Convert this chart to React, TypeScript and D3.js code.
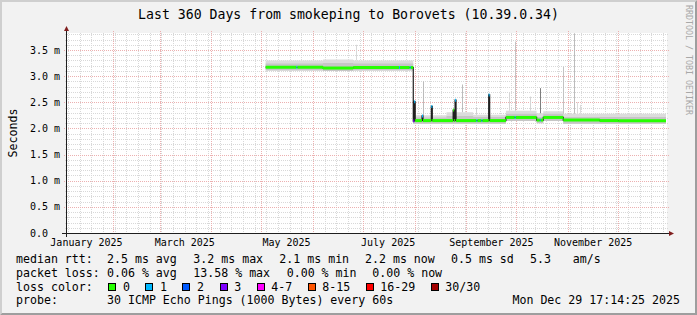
import React from "react";
import * as d3 from "d3";

const WIDTH = 697;
const HEIGHT = 315;

const TITLE = "Last 360 Days from smokeping to Borovets (10.39.0.34)";
const Y_AXIS_LABEL = "Seconds";
const WATERMARK = "RRDTOOL / TOBI OETIKER";

const rangeStart = "2025-01-03T17:14:25";
const rangeEnd = "2025-12-29T17:14:25";
const yMax = 3.825; // ms

const yTickValues = [0, 0.5, 1, 1.5, 2, 2.5, 3, 3.5];
const yTickLabels = ["0.0", "0.5 m", "1.0 m", "1.5 m", "2.0 m", "2.5 m", "3.0 m", "3.5 m"];
const xLabelMonths = ["2025-01-01T00:00", "2025-03-01T00:00", "2025-05-01T00:00", "2025-07-01T00:00", "2025-09-01T00:00", "2025-11-01T00:00"];
const xLabelTexts = ["January 2025", "March 2025", "May 2025", "July 2025", "September 2025", "November 2025"];

// median rtt (ms), step values starting at each time, with loss bucket index
const medianTimes = [
  "2025-05-03T12:00", "2025-05-22T00:00", "2025-05-22T14:00", "2025-06-06T22:00", "2025-06-25T00:00",
  "2025-07-22T12:00", "2025-07-23T02:00", "2025-07-29T00:00", "2025-07-29T14:00",
  "2025-07-31T02:00", "2025-07-31T16:00", "2025-08-01T06:00",
  "2025-08-05T08:00", "2025-08-05T22:00",
  "2025-08-10T22:00", "2025-08-11T12:00",
  "2025-08-24T00:00", "2025-08-24T14:00",
  "2025-08-25T04:00", "2025-08-25T18:00",
  "2025-09-07T00:00", "2025-09-07T14:00",
  "2025-09-10T00:00", "2025-09-10T14:00",
  "2025-09-14T08:00", "2025-09-14T22:00",
  "2025-09-24T16:00",
  "2025-09-30T00:00", "2025-09-30T14:00",
  "2025-10-13T02:00",
  "2025-10-15T00:00", "2025-10-15T14:00",
  "2025-10-17T02:00",
  "2025-10-29T02:00",
  "2025-11-20T00:00",
  "2025-12-01T02:00",
];
const medianValues = [
  3.17, 3.17, 3.17, 3.155, 3.165,
  3.165, 3.165, 3.165, 3.165,
  2.14, 2.51, 2.15,
  2.24, 2.15,
  2.42, 2.15,
  2.35, 2.15,
  2.54, 2.15,
  2.15, 2.15,
  2.15, 2.15,
  2.64, 2.15,
  2.21,
  2.21, 2.21,
  2.16,
  2.16, 2.16,
  2.21,
  2.16,
  2.15,
  2.145,
];
const medianLoss = [
  0, 1, 0, 0, 0,
  1, 0, 1, 0,
  3, 1, 0,
  1, 0,
  1, 0,
  0, 0,
  1, 0,
  1, 0,
  1, 0,
  1, 0,
  0,
  1, 0,
  0,
  1, 0,
  0,
  0,
  0,
  0,
];

// smoke (spread of the pings), ms
const smokeTimes = [
  "2025-05-03T12:00", "2025-06-06T22:00", "2025-06-25T00:00", "2025-07-31T02:00", "2025-08-20T00:00",
  "2025-09-05T00:00", "2025-09-24T16:00", "2025-10-13T02:00", "2025-10-17T02:00", "2025-10-29T02:00",
];
const smokeLow = [3.11, 3.1, 3.11, 2.09, 2.09, 2.09, 2.14, 2.1, 2.14, 2.09];
const smokeCore = [3.24, 3.25, 3.24, 2.21, 2.24, 2.22, 2.28, 2.22, 2.28, 2.22];
const smokeHigh = [3.3, 3.32, 3.3, 2.25, 2.31, 2.26, 2.34, 2.29, 2.33, 2.28];

// isolated max-rtt spikes
const spikeTimes = [
  "2025-06-27T00:00", "2025-08-05T22:00", "2025-08-29T12:00", "2025-09-06T17:00", "2025-09-26T12:00",
  "2025-09-30T02:00", "2025-10-09T02:00", "2025-10-15T07:00", "2025-10-29T02:00", "2025-11-04T17:00",
  "2025-11-06T12:00", "2025-11-08T00:00",
];
const spikeTops = [3.6, 2.9, 2.84, 2.39, 2.68, 3.66, 2.61, 2.77, 3.18, 3.82, 2.5, 2.45];
const spikeDensity = [0.1, 0.3, 0.3, 0.15, 0.12, 0.25, 0.12, 0.75, 0.25, 0.3, 0.08, 0.08];

const lossLabels = ["0", "1", "2", "3", "4-7", "8-15", "16-29", "30/30"];
const lossColors = ["#26ff00", "#00b8ff", "#0059ff", "#7e00ff", "#ff00ff", "#ff5500", "#ff0000", "#a10000"];

const rttStats = ["2.5 ms avg", "3.2 ms max", "2.1 ms min", "2.2 ms now", "0.5 ms sd", "5.3", "am/s"];
const lossStats = ["0.06 % avg", "13.58 % max", "0.00 % min", "0.00 % now"];
const probeText = "30 ICMP Echo Pings (1000 Bytes) every 60s";
const stampText = "Mon Dec 29 17:14:25 2025";

const FONT = "'DejaVu Sans Mono', monospace";

export default function App() {
  const X0 = 66, X1 = 666, Y0 = 233, Y1 = 33;
  const start = new Date(rangeStart);
  const end = new Date(rangeEnd);
  const x = d3.scaleTime().domain([start, end]).range([X0, X1]);
  const y = d3.scaleLinear().domain([0, yMax]).range([Y0, Y1]);

  const mT = medianTimes.map((s) => new Date(s));
  const sT = smokeTimes.map((s) => new Date(s));

  // minor/major grids
  const weekLines = d3.timeSunday.range(start, end).map((d) => Math.round(x(d)) + 0.5);
  const monthLines = d3.timeMonth.range(start, end).map((d) => Math.round(x(d)) + 0.5);
  const minorY: number[] = [];
  for (let i = 1; i * 0.1 <= yMax; i++) {
    if (i % 5 !== 0) minorY.push(Math.round(y(i * 0.1)) + 0.5);
  }
  const majorY = yTickValues.filter((v) => v > 0).map((v) => Math.round(y(v)) + 0.5);

  // smoke areas
  type SP = { t: Date; lo: number; hi: number; core: number };
  const smokePts: SP[] = sT.map((t, i) => ({ t, lo: smokeLow[i], hi: smokeHigh[i], core: smokeCore[i] }));
  smokePts.push({ t: end, lo: smokeLow[smokeLow.length - 1], hi: smokeHigh[smokeHigh.length - 1], core: smokeCore[smokeCore.length - 1] });
  const outerArea = d3.area<SP>().curve(d3.curveStepAfter).x((d) => x(d.t)).y0((d) => y(d.lo)).y1((d) => y(d.hi));
  const coreArea = d3.area<SP>().curve(d3.curveStepAfter).x((d) => x(d.t)).y0((d) => y(d.lo)).y1((d) => y(d.core));

  // spikes
  const spikeShade = d3.scaleLinear<string>().domain([0, 1]).range(["#e6e6e6", "#5a5a5a"]);
  const spikes = spikeTimes.map((s, i) => {
    const t = new Date(s);
    const k = Math.max(0, d3.bisectRight(sT, t) - 1);
    return { x: Math.round(x(t)) + 0.5, y0: y(smokeHigh[k]), y1: y(spikeTops[i]), c: spikeShade(spikeDensity[i]) };
  });

  // median dark line
  type MP = { t: Date; v: number };
  const medPts: MP[] = mT.map((t, i) => ({ t, v: medianValues[i] }));
  medPts.push({ t: end, v: medianValues[medianValues.length - 1] });
  const medLine = d3.line<MP>().curve(d3.curveStepAfter).x((d) => x(d.t)).y((d) => y(d.v));

  const segs = mT.map((t, i) => ({
    x0: x(t),
    x1: x(i + 1 < mT.length ? mT[i + 1] : end),
    y: y(medianValues[i]),
    c: lossColors[medianLoss[i]],
  }));

  const rttX = [107, 193.3, 279.3, 365, 451, 530, 572.7];
  const lossX = [107, 193.3, 286.7, 372.3];
  const rowY = [262.7, 276.6, 290.5, 304.3];

  // legend boxes layout
  const boxes: { bx: number; tx: number }[] = [];
  let bx = 108.3;
  lossLabels.forEach((lab) => {
    const tx = bx + 14.6;
    boxes.push({ bx, tx });
    bx = tx + lab.length * 6.98 + 15.5;
  });

  return (
    <svg
      width={WIDTH}
      height={HEIGHT}
      viewBox={`0 0 ${WIDTH} ${HEIGHT}`}
      style={{ position: "absolute", left: 0, top: 0, display: "block" }}
      fontFamily={FONT}
    >
      <rect x={0} y={0} width={WIDTH} height={HEIGHT} fill="#f2f2f2" />
      {/* 3d border */}
      <polygon points={`0,${HEIGHT} 2,${HEIGHT - 2} 2,2 ${WIDTH - 2},2 ${WIDTH},0 0,0`} fill="#cfcfcf" />
      <polygon points={`2,${HEIGHT - 2} ${WIDTH - 2},${HEIGHT - 2} ${WIDTH - 2},2 ${WIDTH},0 ${WIDTH},${HEIGHT} 0,${HEIGHT}`} fill="#9e9e9e" />

      {/* canvas */}
      <rect x={X0} y={Y1} width={X1 - X0 + 1} height={Y0 - Y1} fill="#ffffff" />

      {/* grid */}
      <g shapeRendering="crispEdges" strokeDasharray="1,1" strokeWidth={1}>
        {minorY.map((yy, i) => (
          <line key={"my" + i} x1={X0 - 1} x2={X1 + 2} y1={yy} y2={yy} stroke="#d8d8d8" />
        ))}
        {weekLines.map((xx, i) => (
          <line key={"wx" + i} x1={xx} x2={xx} y1={Y1} y2={Y0} stroke="#d8d8d8" />
        ))}
        {majorY.map((yy, i) => (
          <line key={"My" + i} x1={X0 - 2} x2={X1 + 3} y1={yy} y2={yy} stroke="#ecb0b0" />
        ))}
        {monthLines.map((xx, i) => (
          <line key={"Mx" + i} x1={xx} x2={xx} y1={Y1 - 2} y2={Y0 + 2} stroke="#ecb0b0" />
        ))}
      </g>

      {/* smoke */}
      <path d={outerArea(smokePts) || ""} fill="#dcdcdc" />
      <path d={coreArea(smokePts) || ""} fill="#c6c6c6" />
      {spikes.map((s, i) => (
        <line key={"sp" + i} x1={s.x} x2={s.x} y1={s.y0} y2={s.y1} stroke={s.c} strokeWidth={1} />
      ))}

      {/* median */}
      <path d={medLine(medPts) || ""} fill="none" stroke="#202020" strokeWidth={1.2} />
      {segs.map((s, i) => (
        <line key={"seg" + i} x1={s.x0} x2={s.x1} y1={s.y} y2={s.y} stroke={s.c} strokeWidth={3} />
      ))}

      {/* axes */}
      <g shapeRendering="crispEdges">
        <line x1={X0 + 0.5} x2={X0 + 0.5} y1={Y0 + 4} y2={Y1 - 3} stroke="#1f1f1f" />
        <line x1={X0 - 4} x2={X1 + 4} y1={Y0 + 0.5} y2={Y0 + 0.5} stroke="#1f1f1f" />
      </g>
      <polygon points={`${X0 - 2},${Y1 - 2} ${X0 + 3},${Y1 - 2} ${X0 + 0.5},${Y1 - 7}`} fill="#801f1f" />
      <polygon points={`${X1 + 3},${Y0 - 2} ${X1 + 3},${Y0 + 3} ${X1 + 8},${Y0 + 0.5}`} fill="#801f1f" />

      {/* y tick labels */}
      {yTickValues.map((v, i) => (
        <text key={"yt" + i} x={30} y={y(v) + 3.6} fontSize={10} fill="#000" xmlSpace="preserve">
          {yTickLabels[i]}
        </text>
      ))}
      {/* x tick labels */}
      {xLabelMonths.map((m, i) => (
        <text key={"xt" + i} x={x(d3.timeDay.offset(new Date(m), 15))} y={245.5} fontSize={10} textAnchor="middle" fill="#000">
          {xLabelTexts[i]}
        </text>
      ))}

      {/* title */}
      <text x={WIDTH / 2} y={18.5} fontSize={13.2} textAnchor="middle" fill="#000">
        {TITLE}
      </text>
      {/* y label */}
      <text transform="translate(16.5,133) rotate(-90)" fontSize={11.6} textAnchor="middle" fill="#000">
        {Y_AXIS_LABEL}
      </text>
      {/* watermark */}
      <text transform="translate(685.5,5) rotate(90)" fontSize={8.3} fill="#a8a8a8">
        {WATERMARK}
      </text>

      {/* legend */}
      <g fontSize={11.6} fill="#000">
        <text x={16} y={rowY[0]}>median rtt:</text>
        {rttStats.map((s, i) => (
          <text key={"r" + i} x={rttX[i]} y={rowY[0]}>{s}</text>
        ))}
        <text x={16} y={rowY[1]}>packet loss:</text>
        {lossStats.map((s, i) => (
          <text key={"l" + i} x={lossX[i]} y={rowY[1]}>{s}</text>
        ))}
        <text x={16} y={rowY[2]}>loss color:</text>
        {lossLabels.map((lab, i) => (
          <g key={"b" + i}>
            <rect x={Math.round(boxes[i].bx) + 0.5} y={283.5} width={7} height={7} fill={lossColors[i]} stroke="#000" strokeWidth={1} />
            <text x={boxes[i].tx} y={rowY[2]}>{lab}</text>
          </g>
        ))}
        <text x={16} y={rowY[3]}>probe:</text>
        <text x={107} y={rowY[3]}>{probeText}</text>
        <text x={680} y={rowY[3]} textAnchor="end">{stampText}</text>
      </g>
    </svg>
  );
}
